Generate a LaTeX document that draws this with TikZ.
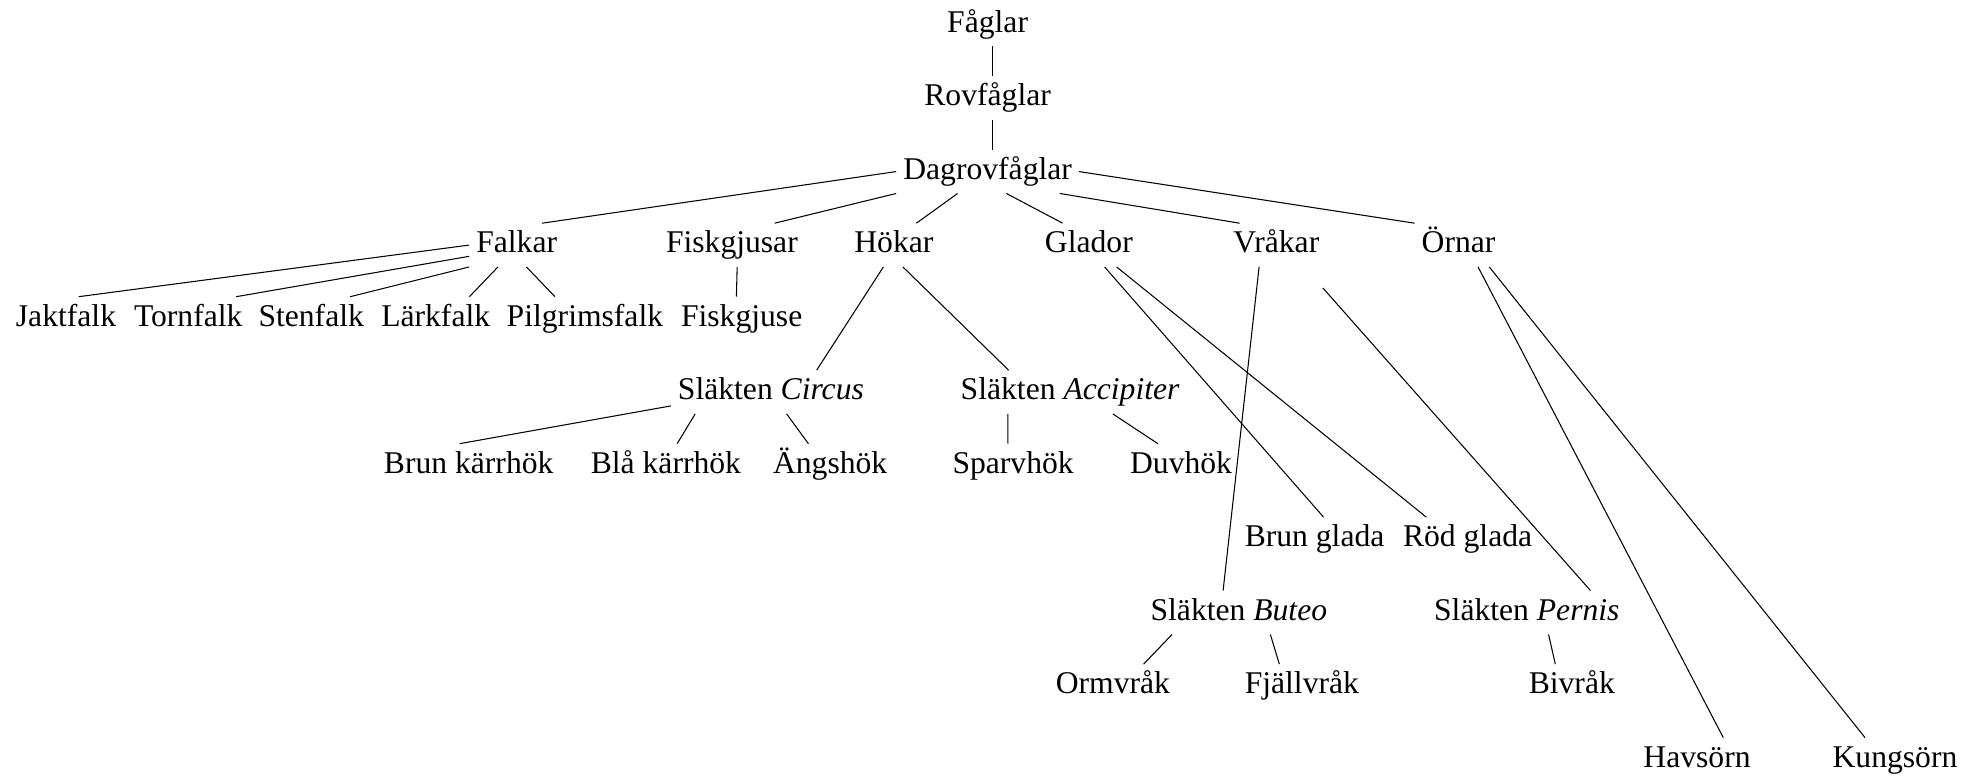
\documentclass[tikz,border=0pt]{standalone}
\usepackage{fontspec}
\setmainfont{Liberation Serif}

\begin{document}
\begin{tikzpicture}[
  every node/.style={font=\fontsize{12}{14}\selectfont, text=black},
  taxon/.style={anchor=base, inner sep=2.5pt, text height=8.5pt, text depth=2.7pt},
]

% Frame
\useasboundingbox (0,0) rectangle (26.43,-10.37);

% Top of the tree
\node[taxon] (faglar) at (13.17,-0.43) {Fåglar};
\node[taxon] (rovfaglar) at (13.17,-1.41) {Rovfåglar};
\node[taxon] (dagrovfaglar) at (13.17,-2.39) {Dagrovfåglar};

% Families
\node[taxon] (falkar) at (6.89,-3.37) {Falkar};
\node[taxon] (fiskgjusar) at (9.76,-3.37) {Fiskgjusar};
\node[taxon] (hokar) at (11.92,-3.37) {Hökar};
\node[taxon] (glador) at (14.52,-3.37) {Glador};
\node[taxon] (vrakar) at (17.02,-3.37) {Vråkar};
\node[taxon] (ornar) at (19.45,-3.37) {Örnar};

% Falcons and osprey
\node[taxon] (jaktfalk) at (0.88,-4.35) {Jaktfalk};
\node[taxon] (tornfalk) at (2.51,-4.35) {Tornfalk};
\node[taxon] (stenfalk) at (4.15,-4.35) {Stenfalk};
\node[taxon] (larkfalk) at (5.81,-4.35) {Lärkfalk};
\node[taxon] (pilgrimsfalk) at (7.80,-4.35) {Pilgrimsfalk};
\node[taxon] (fiskgjuse) at (9.89,-4.35) {Fiskgjuse};

% Hawks
\node[taxon] (circus) at (10.28,-5.33) {Släkten \textit{Circus}};
\node[taxon] (accipiter) at (14.27,-5.33) {Släkten \textit{Accipiter}};
\node[taxon] (brunkarrhok) at (6.25,-6.31) {Brun kärrhök};
\node[taxon] (blakarrhok) at (8.88,-6.31) {Blå kärrhök};
\node[taxon] (angshok) at (11.07,-6.31) {Ängshök};
\node[taxon] (sparvhok) at (13.51,-6.31) {Sparvhök};
\node[taxon] (duvhok) at (15.75,-6.31) {Duvhök};

% Kites
\node[taxon] (brunglada) at (17.53,-7.29) {Brun glada};
\node[taxon] (rodglada) at (19.57,-7.29) {Röd glada};

% Buzzards
\node[taxon] (buteo) at (16.52,-8.27) {Släkten \textit{Buteo}};
\node[taxon] (pernis) at (20.36,-8.27) {Släkten \textit{Pernis}};
\node[taxon] (ormvrak) at (14.84,-9.25) {Ormvråk};
\node[taxon] (fjallvrak) at (17.36,-9.25) {Fjällvråk};
\node[taxon] (bivrak) at (20.96,-9.25) {Bivråk};

% Eagles
\node[taxon] (havsorn) at (22.63,-10.23) {Havsörn};
\node[taxon] (kungsorn) at (25.27,-10.23) {Kungsörn};

% Edges
\draw ([xshift=0.06cm]faglar.south) -- ([xshift=0.06cm]rovfaglar.north);
\draw ([xshift=0.06cm]rovfaglar.south) -- ([xshift=0.06cm]dagrovfaglar.north);

\draw (dagrovfaglar.west) -- ([xshift=0.34cm]falkar.north);
\draw (dagrovfaglar.south west) -- ([xshift=0.57cm]fiskgjusar.north);
\draw ([xshift=-0.40cm]dagrovfaglar.south) -- ([xshift=0.30cm]hokar.north);
\draw ([xshift=0.25cm]dagrovfaglar.south) -- ([xshift=-0.35cm]glador.north);
\draw ([xshift=0.96cm]dagrovfaglar.south) -- ([xshift=-0.49cm]vrakar.north);
\draw (dagrovfaglar.east) -- (ornar.north west);

\draw (falkar.west) -- ([xshift=0.17cm]jaktfalk.north);
\draw ([yshift=-0.15cm]falkar.west) -- ([xshift=0.64cm]tornfalk.north);
\draw (falkar.south west) -- ([xshift=0.52cm]stenfalk.north);
\draw ([xshift=-0.25cm]falkar.south) -- ([xshift=0.45cm]larkfalk.north);
\draw ([xshift=0.13cm]falkar.south) -- ([xshift=-0.40cm]pilgrimsfalk.north);
\draw ([xshift=0.07cm]fiskgjusar.south) -- ([xshift=-0.07cm]fiskgjuse.north);

\draw ([xshift=-0.14cm]hokar.south) -- ([xshift=0.61cm]circus.north);
\draw ([xshift=0.12cm]hokar.south) -- ([xshift=-0.82cm]accipiter.north);
\draw ([yshift=-0.185cm]circus.west) -- ([xshift=-0.12cm]brunkarrhok.north);
\draw ([xshift=-1.01cm]circus.south) -- ([xshift=0.15cm]blakarrhok.north);
\draw ([xshift=0.21cm]circus.south) -- ([xshift=-0.29cm]angshok.north);
\draw ([xshift=-0.83cm]accipiter.south) -- ([xshift=-0.07cm]sparvhok.north);
\draw ([xshift=0.57cm]accipiter.south) -- ([xshift=-0.31cm]duvhok.north);

\draw ([xshift=0.21cm]glador.south) -- ([xshift=0.12cm]brunglada.north);
\draw ([xshift=0.37cm]glador.south) -- ([xshift=-0.55cm]rodglada.north);

\draw ([xshift=-0.23cm]vrakar.south) -- ([xshift=-0.21cm]buteo.north);
\draw ([xshift=0.62cm,yshift=-0.28cm]vrakar.south) -- ([xshift=0.85cm]pernis.north);
\draw ([xshift=-0.89cm]buteo.south) -- ([xshift=0.41cm]ormvrak.north);
\draw ([xshift=0.42cm]buteo.south) -- ([xshift=-0.30cm]fjallvrak.north);
\draw ([xshift=0.29cm]pernis.south) -- ([xshift=-0.22cm]bivrak.north);

\draw ([xshift=0.26cm]ornar.south) -- ([xshift=0.35cm]havsorn.north);
\draw ([xshift=0.41cm]ornar.south) -- ([xshift=-0.40cm]kungsorn.north);

\end{tikzpicture}
\end{document}
